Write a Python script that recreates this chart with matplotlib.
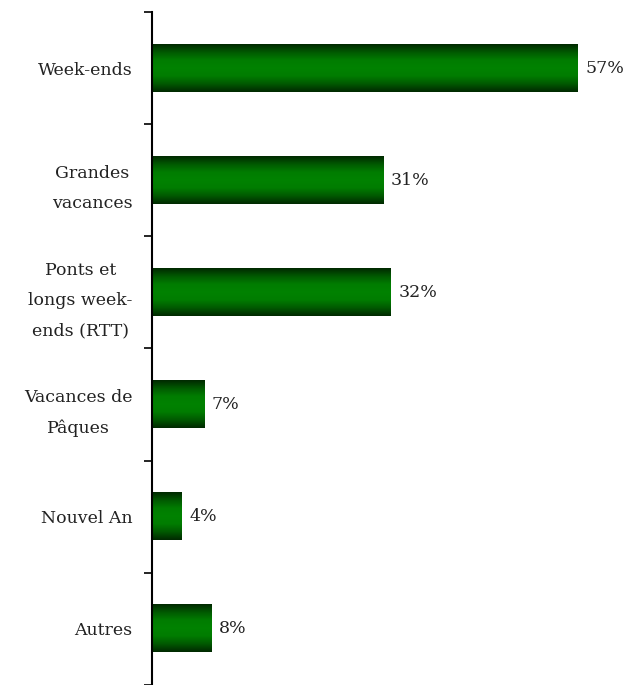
import numpy as np
import matplotlib.pyplot as plt
from matplotlib.colors import LinearSegmentedColormap

categories = ['Week-ends', 'Grandes\nvacances', 'Ponts et\nlongs week-\nends (RTT)',
              'Vacances de\nPâques', 'Nouvel An', 'Autres']
values = [57, 31, 32, 7, 4, 8]
value_labels = ['57%', '31%', '32%', '7%', '4%', '8%']

fig = plt.figure(figsize=(6.33, 6.85), dpi=100)
ax = fig.add_axes([0.2401, 0.0, 0.755, 0.9825])

n = len(categories)
ypos = np.arange(n)
bh = 0.42

# cylinder-like green shading
cmap = LinearSegmentedColormap.from_list(
    'g', ['#002a00', '#005a00', '#007c00', '#008200', '#007c00', '#005a00', '#002a00'])
grad = np.linspace(0, 1, 64).reshape(-1, 1)

ax.set_xlim(0, 64.0)
ax.set_ylim(n - 0.5, -0.5)

for y, v, lab in zip(ypos, values, value_labels):
    ax.imshow(grad, cmap=cmap, aspect='auto', interpolation='bilinear',
              extent=(0, v, y + bh / 2, y - bh / 2), zorder=2)
    ax.text(v + 1.0, y, lab, va='center', ha='left', fontsize=12.5,
            family='DejaVu Serif', color='#222222')

ax.set_yticks(ypos)
ax.set_yticklabels(categories, fontsize=12.5, family='DejaVu Serif',
                   linespacing=2.0, ha='right', multialignment='center', color='#222222')
ax.set_yticks(np.arange(n + 1) - 0.5, minor=True)
ax.tick_params(axis='y', which='major', length=0, pad=14)
ax.tick_params(axis='y', which='minor', length=6, width=1.2, direction='out')
ax.set_xticks([])

for s in ['top', 'right', 'bottom']:
    ax.spines[s].set_visible(False)
ax.spines['left'].set_linewidth(1.5)

plt.savefig('out.png', dpi=100)
